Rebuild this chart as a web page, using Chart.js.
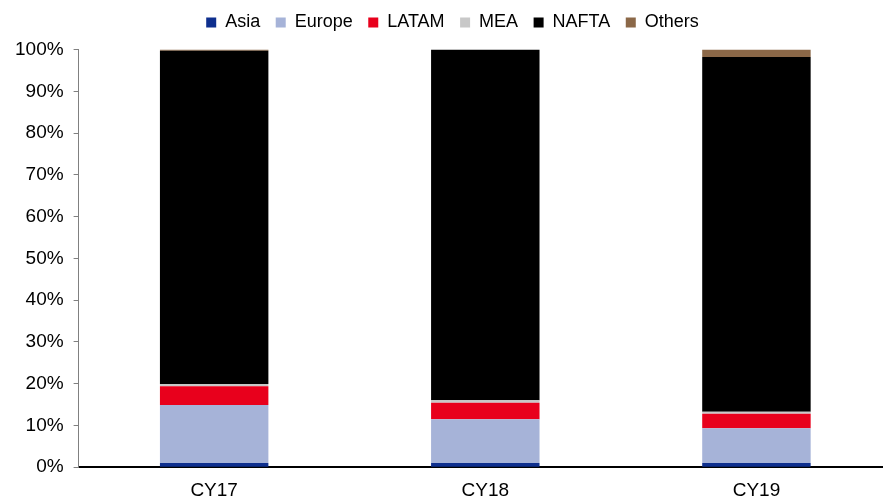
<!DOCTYPE html>
<html>
<head>
<meta charset="utf-8">
<script src="https://cdn.jsdelivr.net/npm/chart.js@4"></script>
<style>
  html,body{margin:0;padding:0;background:#fff;overflow:hidden;}
  #wrap{width:883px;height:498px;overflow:hidden;}
  #box{width:894px;height:498px;}
</style>
</head>
<body>
<div id="wrap"><div id="box"><canvas id="mixChart"></canvas></div></div>
<script>
// regional split of volumes, % of total
const years = ["CY17","CY18","CY19"];
const asia   = [1.0, 1.0, 1.0];
const europe = [13.9, 10.5, 8.3];
const latam  = [4.5, 3.9, 3.5];
const mea    = [0.5, 0.6, 0.5];
const nafta  = [79.8, 84.0, 84.9];
const others = [0.3, 0.0, 1.8];
const yTicks = [0,10,20,30,40,50,60,70,80,90,100];

function series(label,data,color){
    return {label:label,data:data,backgroundColor:color,borderWidth:0,
        barPercentage:0.4,categoryPercentage:1.0};
}

// extra room under the legend, and nudge it right a bit
const legendSpacing = {
    id:"legendSpacing",
    beforeInit(chart){
        const fit = chart.legend.fit;
        chart.legend.fit = function(){
            fit.bind(chart.legend)();
            this.height += 8;
        };
    },
    afterLayout(chart){
        chart.legend.left += 4;
        chart.legend.right += 4;
    }
};

const ctx = document.getElementById("mixChart").getContext("2d");
new Chart(ctx,{
    type:"bar",
    data:{
        labels:years,
        datasets:[
            series("Asia",asia,"#0e2f8e"),
            series("Europe",europe,"#a6b3d8"),
            series("LATAM",latam,"#e8001c"),
            series("MEA",mea,"#c8c8c8"),
            series("NAFTA",nafta,"#000000"),
            series("Others",others,"#8b6848")
        ]
    },
    plugins:[legendSpacing],
    options:{
        responsive:true,
        maintainAspectRatio:false,
        animation:false,
        layout:{padding:{left:5,right:2,top:-2,bottom:-16}},
        plugins:{
            tooltip:{enabled:false},
            legend:{
                position:"top",
                labels:{
                    font:{family:"Liberation Sans",size:18},
                    color:"#000",
                    boxWidth:10,
                    boxHeight:10,
                    padding:15.5
                }
            }
        },
        scales:{
            x:{
                stacked:true,
                grid:{display:false,drawTicks:false},
                border:{color:"#000",width:2},
                ticks:{font:{family:"Liberation Sans",size:19},color:"#000",padding:12}
            },
            y:{
                stacked:true,
                min:0,max:100,
                afterBuildTicks:axis=>{axis.ticks=yTicks.map(v=>({value:v}));},
                grid:{drawOnChartArea:false,tickLength:5,color:"#808080"},
                border:{color:"#808080",width:1},
                ticks:{
                    font:{family:"Liberation Sans",size:19},
                    color:"#000",
                    padding:10,
                    callback:v=>v+"%"
                }
            }
        }
    }
});
</script>
</body>
</html>
